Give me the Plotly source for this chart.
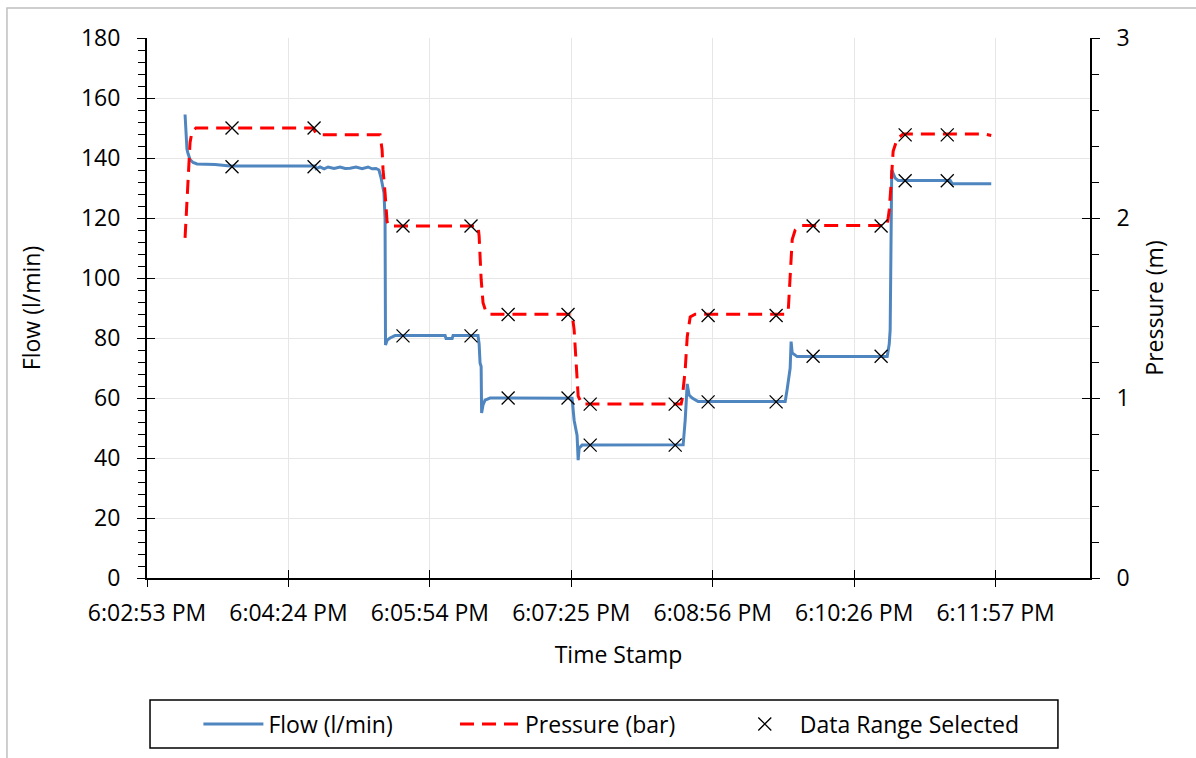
import plotly.graph_objects as go

# Elapsed seconds since the first tick (6:02:53 PM)
flow_t = [24.4, 25.0, 25.6, 26.3, 27.6, 29.5, 32.1, 43.6, 53.2, 98.1, 107.7, 108.4, 110.9, 113.5,
          116.1, 119.9, 123.8, 127.0, 130.2, 134.0, 137.9, 141.7, 144.3, 146.8, 148.7, 150.0,
          151.3, 151.9, 152.6, 152.9, 154.0, 155.8, 159.0, 191.1, 191.7, 195.6, 196.2, 212.2,
          212.9, 213.5, 214.2, 214.5, 215.4, 216.7, 219.9, 272.5, 273.8, 275.1, 275.7, 276.4,
          277.0, 278.9, 343.7, 345.0, 345.6, 346.3, 347.5, 349.5, 353.3, 409.1, 410.4, 411.7,
          412.3, 412.9, 413.6, 416.8, 474.5, 475.8, 476.4, 477.4, 479.6, 481.5, 514.9, 516.2, 541.2]
flow_v = [154.5, 148, 143, 141.5, 139.5, 138.5, 138.0, 137.8, 137.3, 137.3, 137.3, 136.4, 137.0, 136.4,
          137.0, 136.5, 137.0, 136.5, 136.6, 137.0, 136.4, 137.0, 136.4, 136.5, 136.0, 133.5,
          130, 128.4, 120, 77.7, 79.3, 80.0, 80.8, 80.8, 79.8, 79.8, 80.8, 80.8,
          78, 71.7, 70.5, 55, 57.7, 59.3, 60.0, 59.9, 52.6, 48.8, 47.5, 39.3,
          43.3, 44.3, 44.4, 52.6, 59.3, 64.7, 61, 60, 58.8, 58.8, 63, 68.3,
          70, 78.8, 75, 73.8, 73.8, 78, 82.7, 136, 133.3, 132.5, 132.5, 131.4, 131.4]

pres_t = [24.4, 25.0, 26.3, 27.6, 28.9, 31.4, 106.4, 108.4, 110.9, 149.4, 150.7, 151.3, 152.6,
          153.9, 155.2, 212.2, 212.9, 214.2, 215.4, 217.4, 219.9, 272.5, 273.8, 275.1, 276.4,
          278.9, 342.4, 343.0, 345.0, 346.3, 348.2, 351.4, 409.7, 411.1, 412.3, 413.6, 415.5,
          418.7, 474.5, 475.8, 477.0, 478.3, 480.9, 484.7, 537.3, 541.2]
pres_v = [1.89, 2.0, 2.2, 2.42, 2.48, 2.5, 2.5, 2.47, 2.462, 2.462, 2.38, 2.27, 2.14,
          1.98, 1.956, 1.956, 1.90, 1.66, 1.53, 1.475, 1.465, 1.465, 1.38, 1.17, 1.01,
          0.966, 0.966, 0.99, 1.155, 1.34, 1.45, 1.465, 1.465, 1.49, 1.70, 1.88, 1.933,
          1.958, 1.958, 2.045, 2.19, 2.37, 2.44, 2.466, 2.466, 2.458]

# Start and end of each selected steady-state window
sel_t = [54.5, 107.1, 164.1, 207.7, 231.5, 269.9, 284.1, 338.6, 359.7, 403.3, 427.0, 470.6, 486.0, 513.0]
sel_flow = [137.1, 137.1, 80.7, 80.7, 60.0, 60.0, 44.3, 44.3, 58.7, 58.7, 73.9, 73.9, 132.4, 132.4]
sel_pres = [2.5, 2.5, 1.956, 1.956, 1.464, 1.464, 0.966, 0.966, 1.458, 1.458, 1.956, 1.956, 2.462, 2.462]

tick_step = 90.667
tick_labels = ["6:02:53 PM", "6:04:24 PM", "6:05:54 PM", "6:07:25 PM",
               "6:08:56 PM", "6:10:26 PM", "6:11:57 PM"]
tick_pos = [i * tick_step for i in range(len(tick_labels))]
x_max = 604.5
flow_range = [0, 180]
pres_range = [0, 3]

FONT = "Open Sans"
FS = 23
BLUE = "#4F86C0"
RED = "#FF0000"
axis_font = dict(family=FONT, size=FS, color="black")
x_marker = dict(symbol="x-thin", size=13, color="black", line=dict(color="black", width=1.3))

fig = go.Figure()
fig.add_trace(go.Scatter(x=flow_t, y=flow_v, mode="lines", name="Flow (l/min)", legend="legend",
                         line=dict(color=BLUE, width=3), xaxis="x", yaxis="y"))
fig.add_trace(go.Scatter(x=pres_t, y=pres_v, mode="lines", name="Pressure (bar)", legend="legend2",
                         line=dict(color=RED, width=3, dash="14px,8px"), xaxis="x", yaxis="y2"))
fig.add_trace(go.Scatter(x=sel_t, y=sel_flow, mode="markers", name="Data Range Selected",
                         legend="legend3", legendgroup="sel", marker=x_marker, xaxis="x", yaxis="y"))
fig.add_trace(go.Scatter(x=sel_t, y=sel_pres, mode="markers", name="Data Range Selected",
                         legend="legend3", legendgroup="sel", showlegend=False, marker=x_marker,
                         xaxis="x", yaxis="y2"))

# Empty traces that carry the inner half of the crossing major tick marks
for xa, ya in [("x2", "y"), ("x", "y3"), ("x", "y4")]:
    fig.add_trace(go.Scatter(x=[], y=[], mode="lines", showlegend=False, hoverinfo="skip",
                             xaxis=xa, yaxis=ya))

inner_ticks = dict(ticks="inside", ticklen=8, tickwidth=1, tickcolor="black",
                   showticklabels=False, showgrid=False, showline=False, zeroline=False)

legend_common = dict(orientation="h", xanchor="left", yanchor="middle", y=-0.2704,
                     borderwidth=0, bgcolor="rgba(0,0,0,0)",
                     font=dict(family=FONT, size=FS, color="black"), itemwidth=60)

fig.update_layout(
    width=1196, height=758,
    margin=dict(l=147, r=106, t=38, b=180),
    paper_bgcolor="white", plot_bgcolor="white",
    font=dict(family=FONT, size=FS, color="black"),
    showlegend=True,
    xaxis=dict(range=[0, x_max], tickmode="array", tickvals=tick_pos, ticktext=tick_labels,
               tickfont=axis_font, ticks="outside", ticklen=7, tickwidth=1, tickcolor="black",
               ticklabelstandoff=6,
               showline=True, linecolor="black", linewidth=2,
               showgrid=True, gridcolor="#E6E6E6", gridwidth=1, zeroline=False,
               title=dict(text="Time Stamp", font=axis_font, standoff=20)),
    xaxis2=dict(range=[0, x_max], overlaying="x", anchor="y", side="bottom",
                tickmode="array", tickvals=tick_pos, **inner_ticks),
    yaxis=dict(range=flow_range, dtick=20, tickfont=axis_font, ticks="outside", ticklen=8,
               tickwidth=1, tickcolor="black", ticklabelstandoff=12,
               showline=True, linecolor="black", linewidth=2,
               showgrid=True, gridcolor="#E6E6E6", gridwidth=1, zeroline=False,
               minor=dict(dtick=4, ticks="outside", ticklen=7, tickcolor="black", showgrid=False),
               title=dict(text="Flow (l/min)", font=axis_font, standoff=34)),
    yaxis2=dict(range=pres_range, dtick=1, overlaying="y", side="right", anchor="x",
                tickfont=axis_font, ticks="outside", ticklen=8, tickwidth=1, tickcolor="black",
                ticklabelstandoff=12,
                showline=True, linecolor="black", linewidth=2, showgrid=False, zeroline=False,
                minor=dict(dtick=0.2, ticks="outside", ticklen=7, tickcolor="black"),
                title=dict(text="Pressure (m)", font=axis_font, standoff=18)),
    yaxis3=dict(range=flow_range, dtick=20, overlaying="y", side="left", anchor="x", **inner_ticks),
    yaxis4=dict(range=pres_range, dtick=1, overlaying="y", side="right", anchor="x", **inner_ticks),
    legend=dict(x=0.0545, **legend_common),
    legend2=dict(x=0.3266, **legend_common),
    legend3=dict(x=0.618, **legend_common),
)

# Legend frame
fig.add_shape(type="rect", xref="paper", yref="paper", x0=0.0032, x1=0.966, y0=-0.3148, y1=-0.2259,
              line=dict(color="black", width=1.5), fillcolor="rgba(0,0,0,0)", layer="below")
# Chart-area frame
fig.add_shape(type="rect", xref="paper", yref="paper", x0=-0.1485, x1=1.2, y0=-0.5, y1=1.0556,
              line=dict(color="#BFBFBF", width=1.5), fillcolor="rgba(0,0,0,0)", layer="below")

fig.write_html("out.html")
